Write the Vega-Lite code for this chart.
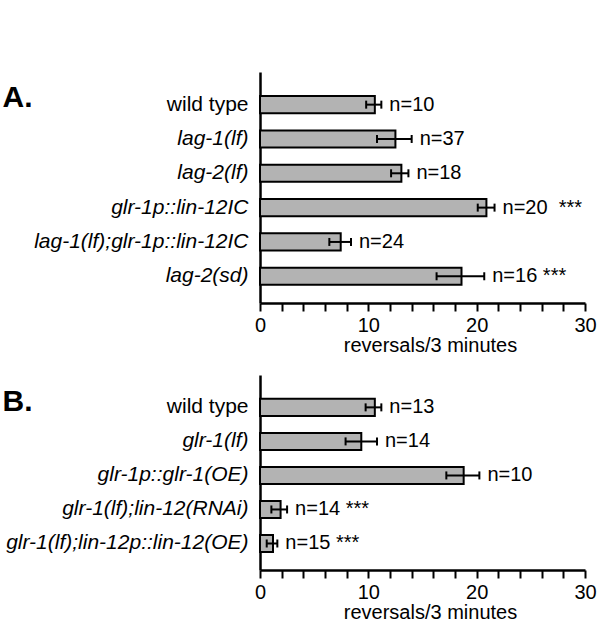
{
  "$schema": "https://vega.github.io/schema/vega-lite/v6.json",
  "padding": {"left": 2, "top": 72, "right": 2, "bottom": 2},
  "config": {
    "font": "Liberation Sans",
    "view": {"stroke": null},
    "axis": {"domainColor": "#000", "tickColor": "#000", "labelColor": "#000", "titleColor": "#000", "grid": false, "titleFontWeight": "normal"}
  },
  "datasets": {
    "a": [
      {"strain": "wild type", "mean": 10.6, "lo": 9.8, "hi": 11.2, "label": "n=10"},
      {"strain": "lag-1(lf)", "mean": 12.5, "lo": 10.8, "hi": 14.0, "label": "n=37"},
      {"strain": "lag-2(lf)", "mean": 13.05, "lo": 12.1, "hi": 13.7, "label": "n=18"},
      {"strain": "glr-1p::lin-12IC", "mean": 20.9, "lo": 20.1, "hi": 21.65, "label": "n=20\u00a0\u00a0***"},
      {"strain": "lag-1(lf);glr-1p::lin-12IC", "mean": 7.45, "lo": 6.4, "hi": 8.4, "label": "n=24"},
      {"strain": "lag-2(sd)", "mean": 18.6, "lo": 16.3, "hi": 20.7, "label": "n=16\u00a0***"}
    ],
    "b": [
      {"strain": "wild type", "mean": 10.6, "lo": 9.75, "hi": 11.2, "label": "n=13"},
      {"strain": "glr-1(lf)", "mean": 9.35, "lo": 7.9, "hi": 10.8, "label": "\u00a0\u00a0\u00a0n=14"},
      {"strain": "glr-1p::glr-1(OE)", "mean": 18.8, "lo": 17.2, "hi": 20.25, "label": "n=10"},
      {"strain": "glr-1(lf);lin-12(RNAi)", "mean": 1.9, "lo": 1.05, "hi": 2.5, "label": "n=14 ***"},
      {"strain": "glr-1(lf);lin-12p::lin-12(OE)", "mean": 1.2, "lo": 0.62, "hi": 1.6, "label": "n=15 ***"}
    ]
  },
  "bounds": "flush",
  "spacing": 72,
  "vconcat": [
    {
      "data": {"name": "a"},
      "width": 325,
      "height": 231,
      "encoding": {
        "y": {
          "field": "strain", "type": "nominal", "sort": null,
          "scale": {"paddingInner": 0.5, "paddingOuter": 0.615, "align": 0.57},
          "axis": {
            "title": "A.", "titleAngle": 0, "titleX": -258, "titleY": 34, "titleAlign": "left", "titleBaseline": "alphabetic",
            "titleFontSize": 30, "titleFontWeight": "bold",
            "ticks": false, "tickSize": 0, "labelPadding": 12, "labelFontSize": 21, "labelLimit": 400, "domainWidth": 2.5,
            "labelFontStyle": {"condition": {"test": "datum.value == 'wild type'", "value": "normal"}, "value": "italic"}
          }
        }
      },
      "layer": [
        {
          "mark": {"type": "bar", "fill": "#b3b3b3", "stroke": "#000", "strokeWidth": 2},
          "encoding": {
            "x": {
              "field": "mean", "type": "quantitative", "title": "reversals/3 minutes",
              "scale": {"domain": [0, 30], "nice": false},
              "axis": {
                "values": [0, 2, 4, 6, 8, 10, 12, 14, 16, 18, 20, 22, 24, 26, 28, 30],
                "tickCount": 30,
                "labelExpr": "datum.value % 10 == 0 ? datum.label : ''",
                "tickSize": 8, "tickWidth": 2, "domainWidth": 2.5, "labelFontSize": 20, "labelPadding": 4,
                "labelOverlap": false, "labelFlush": false, "titleFontSize": 20, "titlePadding": 0, "titleX": 170
              }
            }
          }
        },
        {
          "mark": {"type": "rule", "strokeWidth": 2, "color": "#000"},
          "encoding": {"x": {"field": "lo", "type": "quantitative", "title": "reversals/3 minutes"}, "x2": {"field": "hi"}}
        },
        {
          "mark": {"type": "tick", "thickness": 2, "size": 8, "color": "#000", "opacity": 1},
          "encoding": {"x": {"field": "lo", "type": "quantitative", "title": "reversals/3 minutes"}}
        },
        {
          "mark": {"type": "tick", "thickness": 2, "size": 8, "color": "#000", "opacity": 1},
          "encoding": {"x": {"field": "hi", "type": "quantitative", "title": "reversals/3 minutes"}}
        },
        {
          "mark": {"type": "text", "align": "left", "baseline": "middle", "dx": 8, "fontSize": 20, "color": "#000"},
          "encoding": {"x": {"field": "hi", "type": "quantitative", "title": "reversals/3 minutes"}, "text": {"field": "label"}}
        }
      ]
    },
    {
      "data": {"name": "b"},
      "width": 325,
      "height": 195,
      "encoding": {
        "y": {
          "field": "strain", "type": "nominal", "sort": null,
          "scale": {"paddingInner": 0.5, "paddingOuter": 0.615, "align": 0.57},
          "axis": {
            "title": "B.", "titleAngle": 0, "titleX": -258, "titleY": 35, "titleAlign": "left", "titleBaseline": "alphabetic",
            "titleFontSize": 30, "titleFontWeight": "bold",
            "ticks": false, "tickSize": 0, "labelPadding": 12, "labelFontSize": 21, "labelLimit": 400, "domainWidth": 2.5,
            "labelFontStyle": {"condition": {"test": "datum.value == 'wild type'", "value": "normal"}, "value": "italic"}
          }
        }
      },
      "layer": [
        {
          "mark": {"type": "bar", "fill": "#b3b3b3", "stroke": "#000", "strokeWidth": 2},
          "encoding": {
            "x": {
              "field": "mean", "type": "quantitative", "title": "reversals/3 minutes",
              "scale": {"domain": [0, 30], "nice": false},
              "axis": {
                "values": [0, 2, 4, 6, 8, 10, 12, 14, 16, 18, 20, 22, 24, 26, 28, 30],
                "tickCount": 30,
                "labelExpr": "datum.value % 10 == 0 ? datum.label : ''",
                "tickSize": 8, "tickWidth": 2, "domainWidth": 2.5, "labelFontSize": 20, "labelPadding": 4,
                "labelOverlap": false, "labelFlush": false, "titleFontSize": 20, "titlePadding": 0, "titleX": 170
              }
            }
          }
        },
        {
          "mark": {"type": "rule", "strokeWidth": 2, "color": "#000"},
          "encoding": {"x": {"field": "lo", "type": "quantitative", "title": "reversals/3 minutes"}, "x2": {"field": "hi"}}
        },
        {
          "mark": {"type": "tick", "thickness": 2, "size": 8, "color": "#000", "opacity": 1},
          "encoding": {"x": {"field": "lo", "type": "quantitative", "title": "reversals/3 minutes"}}
        },
        {
          "mark": {"type": "tick", "thickness": 2, "size": 8, "color": "#000", "opacity": 1},
          "encoding": {"x": {"field": "hi", "type": "quantitative", "title": "reversals/3 minutes"}}
        },
        {
          "mark": {"type": "text", "align": "left", "baseline": "middle", "dx": 8, "fontSize": 20, "color": "#000"},
          "encoding": {"x": {"field": "hi", "type": "quantitative", "title": "reversals/3 minutes"}, "text": {"field": "label"}}
        }
      ]
    }
  ]
}
